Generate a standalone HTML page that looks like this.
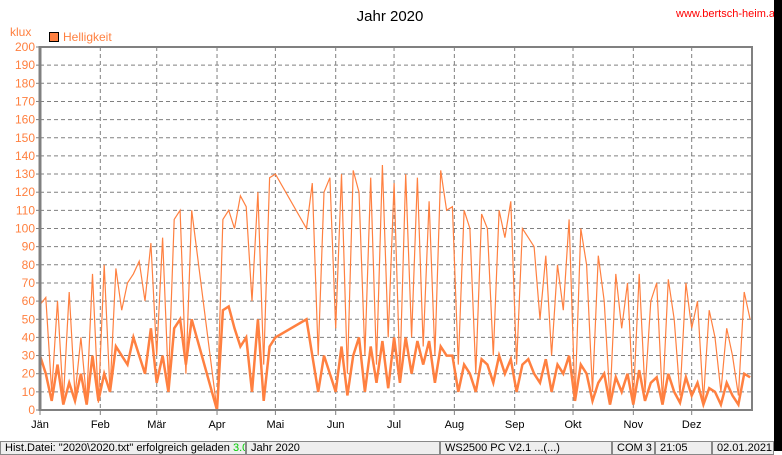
<!DOCTYPE html>
<html><head><meta charset="utf-8"><style>
body{margin:0;width:782px;height:451px;overflow:hidden;background:#fff;font-family:"Liberation Sans",sans-serif;position:relative}
.sb{position:absolute;top:441px;height:14px;border:1px solid #888;background:#eee;font-size:11px;line-height:12px;padding-left:4px;box-sizing:border-box;overflow:hidden;white-space:nowrap}
</style></head><body>
<svg width="782" height="451" style="position:absolute;left:0;top:0" id="chart">
<text x="390" y="21" font-size="15" text-anchor="middle" fill="#000">Jahr 2020</text>
<text x="676" y="17" font-size="11" fill="#f00">www.bertsch-heim.at</text>
<rect x="774" y="0" width="8" height="451" fill="#000"/>
<text x="10" y="36" font-size="12" fill="#ff8040">klux</text>
<rect x="49.5" y="32.5" width="9" height="9" fill="#ff8040" stroke="#000"/>
<text x="63" y="41" font-size="12" fill="#ff8040">Helligkeit</text>
<g id="grid"></g><g id="series"></g>
<rect x="40" y="47" width="712" height="363" fill="none" stroke="#808080" stroke-width="2"/>
<line x1="40" y1="46" x2="40" y2="411" stroke="#808080" stroke-width="3"/>
</svg>
<div class="sb" style="left:0;width:246px">Hist.Datei: "2020\2020.txt" erfolgreich geladen <span style="color:#0c0">3.0609</span></div>
<div class="sb" style="left:246px;width:194px">Jahr 2020</div>
<div class="sb" style="left:440px;width:172px">WS2500 PC V2.1 ...(...)</div>
<div class="sb" style="left:612px;width:43px">COM 3</div>
<div class="sb" style="left:655px;width:57px">21:05</div>
<div class="sb" style="left:712px;width:62px">02.01.2021</div>
<script>
const yTicks=[0,10,20,30,40,50,60,70,80,90,100,110,120,130,140,150,160,170,180,190,200];
const monthLabels=["Jän","Feb","Mär","Apr","Mai","Jun","Jul","Aug","Sep","Okt","Nov","Dez"];
const monthStartDays=[0,31,60,91,121,152,182,213,244,274,305,335];
const days=[0,3,6,9,12,15,18,21,24,27,30,33,36,39,42,45,48,51,54,57,60,63,66,69,72,75,78,
91,94,97,100,103,106,109,112,115,118,121,
137,140,143,146,149,152,155,158,161,164,167,170,173,176,179,182,185,188,191,194,197,200,203,206,209,212,215,218,221,224,227,230,233,236,239,242,245,248,251,254,257,260,263,266,269,272,275,278,281,284,287,290,293,296,299,302,305,308,311,314,317,320,323,326,329,332,335,338,341,344,347,350,353,356,359,362,365];
const maxValues=[58,62,10,60,5,65,8,40,5,75,4,
80,10,78,55,70,75,82,60,92,
30,95,15,105,110,20,110,
0,105,110,100,118,112,60,120,25,128,130,
100,125,30,120,128,
45,130,20,132,120,30,128,25,135,40,
125,20,130,40,128,35,115,30,132,110,
112,25,110,100,20,108,100,30,110,95,
115,25,100,95,90,50,85,30,80,55,
105,5,100,80,10,85,60,5,75,45,
70,5,75,10,60,70,5,72,50,8,
70,45,60,5,55,40,10,45,30,8,65,50];
const meanValues=[30,20,5,25,3,15,5,20,3,30,5,
20,10,35,30,25,40,30,20,45,
15,30,10,45,50,25,50,
0,55,57,45,35,40,10,50,5,35,40,
50,30,10,30,20,
10,35,8,30,40,10,35,15,38,12,
40,15,40,20,38,25,38,15,35,30,
30,10,25,20,10,28,25,15,30,20,
28,10,25,28,20,15,28,10,25,20,
30,5,25,20,5,15,20,3,18,10,
20,3,22,5,15,18,3,20,10,4,
18,8,15,3,12,10,3,15,8,3,20,18];
const NS="http://www.w3.org/2000/svg";
const X=d=>40+d*712/366, Y=v=>410-v*1.815;
const grid=document.getElementById('grid'), ser=document.getElementById('series'), svg=document.getElementById('chart');
function mk(t,a,p){const e=document.createElementNS(NS,t);for(const k in a)e.setAttribute(k,a[k]);p.appendChild(e);return e;}
yTicks.forEach(v=>{
 const y=Y(v);
 if(v>0&&v<200){const l=mk('line',{x1:40,x2:752,y1:y,y2:y,stroke:'#808080','stroke-dasharray':'4,3'},grid);
 
 }
 const tk=mk('line',{x1:36,x2:40,y1:y,y2:y,stroke:'#808080'},grid);
 
 
 const t=mk('text',{x:35,y:y+4,'font-size':12,fill:'#ff8040','text-anchor':'end'},svg);
 t.textContent=v;
 
 
});
monthStartDays.forEach((d,i)=>{
 const x=X(d);
 if(i>0){const l=mk('line',{x1:x,x2:x,y1:47,y2:410,stroke:'#808080','stroke-dasharray':'4,3'},grid);
 
 }
 const tk=mk('line',{x1:x,x2:x,y1:410,y2:415,stroke:'#808080'},grid);
 
 
 const t=mk('text',{x:x,y:428,'font-size':11,fill:'#000','text-anchor':'middle'},svg);
 t.textContent=monthLabels[i];
 
 
});
const pts=a=>days.map((d,i)=>X(d).toFixed(1)+','+Y(a[i]).toFixed(1)).join(' ');
const pm=mk('polyline',{points:pts(maxValues),fill:'none',stroke:'#ff8040','stroke-width':1.2},ser);


const pa=mk('polyline',{points:pts(meanValues),fill:'none',stroke:'#ff8040','stroke-width':2.5},ser);


</script>
</body></html>
